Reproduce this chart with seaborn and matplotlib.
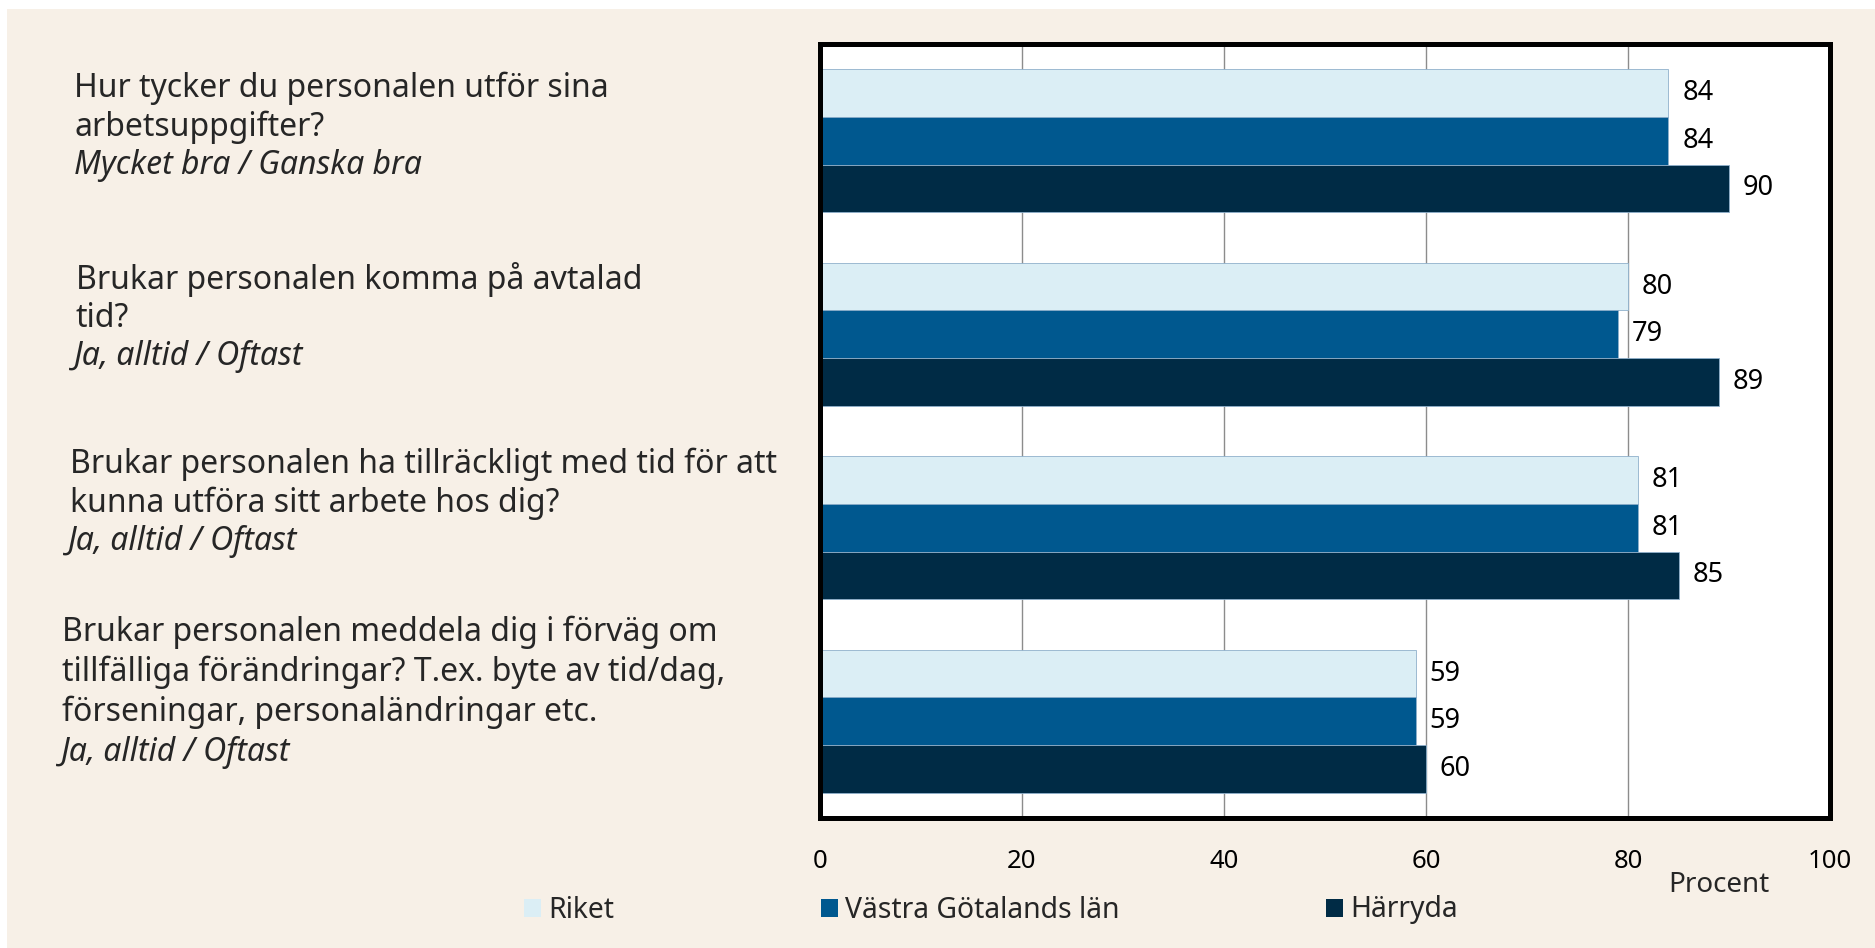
import matplotlib
matplotlib.use("Agg")
import matplotlib.pyplot as plt
import matplotlib.transforms as mtransforms
from matplotlib.patches import Rectangle
import pandas as pd
import seaborn as sns

# ── Data ───────────────────────────────────────────────────────────────
QUESTIONS = [
    "Hur tycker du personalen utför sina\narbetsuppgifter?",
    "Brukar personalen komma på avtalad\ntid?",
    "Brukar personalen ha tillräckligt med tid för att\nkunna utföra sitt arbete hos dig?",
    "Brukar personalen meddela dig i förväg om\ntillfälliga förändringar? T.ex. byte av tid/dag,\nförseningar, personaländringar etc.",
]
ANSWERS = [
    "Mycket bra / Ganska bra",
    "Ja, alltid / Oftast",
    "Ja, alltid / Oftast",
    "Ja, alltid / Oftast",
]
SERIES  = ["Riket", "Västra Götalands län", "Härryda"]
RIKET   = [84, 80, 81, 59]
VGL     = [84, 79, 81, 59]
HARRYDA = [90, 89, 85, 60]
XTICKS  = [0, 20, 40, 60, 80, 100]

COLORS = ["#DBEEF5", "#00588F", "#002B45"]
BG     = "#F7F0E7"

# label placement (figure px from left, baseline offset px from group centre)
LABEL_X  = [74, 76, 70, 62]
ANS_X    = [74, 74, 68, 61]
LABEL_DY = [-33, -31, -22, -40]
LINE_PX  = [38, 38, 38, 40]

rows = []
for s, vals in zip(SERIES, [RIKET, VGL, HARRYDA]):
    for q, v in zip(QUESTIONS, vals):
        rows.append({"fraga": q, "serie": s, "procent": v})
df = pd.DataFrame(rows)

# ── Plot ───────────────────────────────────────────────────────────────
sns.set_style("white")
plt.rcParams["font.family"] = ["Noto Sans", "DejaVu Sans"]

fig = plt.figure(figsize=(18.75, 9.48), dpi=100)
fig.patch.set_facecolor("white")
fig.patches.append(Rectangle((7 / 1875, 0), 1, 1 - 9 / 948, transform=fig.transFigure,
                             facecolor=BG, edgecolor="none", zorder=-10))

ax = fig.add_axes([820 / 1875, 1 - 818 / 948, 1010 / 1875, 774 / 948])
ax.set_facecolor("white")

sns.barplot(data=df, y="fraga", x="procent", hue="serie", orient="h",
            palette=COLORS, width=0.74, ax=ax, order=QUESTIONS, hue_order=SERIES,
            edgecolor="#8FB0CB", linewidth=0.6, saturation=1)

for cont in ax.containers:
    ax.bar_label(cont, padding=10, fontsize=19.5, color="black")

ax.set_xlim(0, 100)
ax.set_ylim(3.5, -0.5)
ax.set_xticks(XTICKS)
ax.tick_params(axis="x", length=0, pad=22, labelsize=18.5, colors="black")
ax.set_yticks([])
ax.set_ylabel("")
ax.set_xlabel("Procent", fontsize=20)
ax.xaxis.set_label_coords(0.89, -0.068)
ax.xaxis.grid(True, color="#8C8C8C", lw=1)
ax.set_axisbelow(True)
for sp in ax.spines.values():
    sp.set_visible(True)
    sp.set_color("black")
    sp.set_linewidth(3.6)

# question labels
trans = mtransforms.blended_transform_factory(fig.transFigure, ax.transData)
for i, (q, a) in enumerate(zip(QUESTIONS, ANSWERS)):
    ax.annotate(a, xy=(ANS_X[i] / 1875, i), xycoords=trans, xytext=(0, LABEL_DY[i]),
                textcoords="offset pixels", ha="left", va="baseline",
                fontsize=23, fontstyle="italic", annotation_clip=False)
    ax.annotate(q, xy=(LABEL_X[i] / 1875, i), xycoords=trans,
                xytext=(0, LABEL_DY[i] + LINE_PX[i]),
                textcoords="offset pixels", ha="left", va="baseline",
                fontsize=23, linespacing=1.2 if i < 3 else 1.26,
                annotation_clip=False)

sns.move_legend(ax, "center left", bbox_to_anchor=((524 - 820) / 1010, -(910 - 818) / 774),
                ncol=3, frameon=False, title=None, fontsize=20.4, borderpad=0,
                handlelength=0.6, handleheight=0.6, handletextpad=0.25,
                columnspacing=7.3, borderaxespad=0)
for h in ax.get_legend().legend_handles:
    h.set_edgecolor("none")

fig.savefig("out.png", dpi=100, facecolor="white")
